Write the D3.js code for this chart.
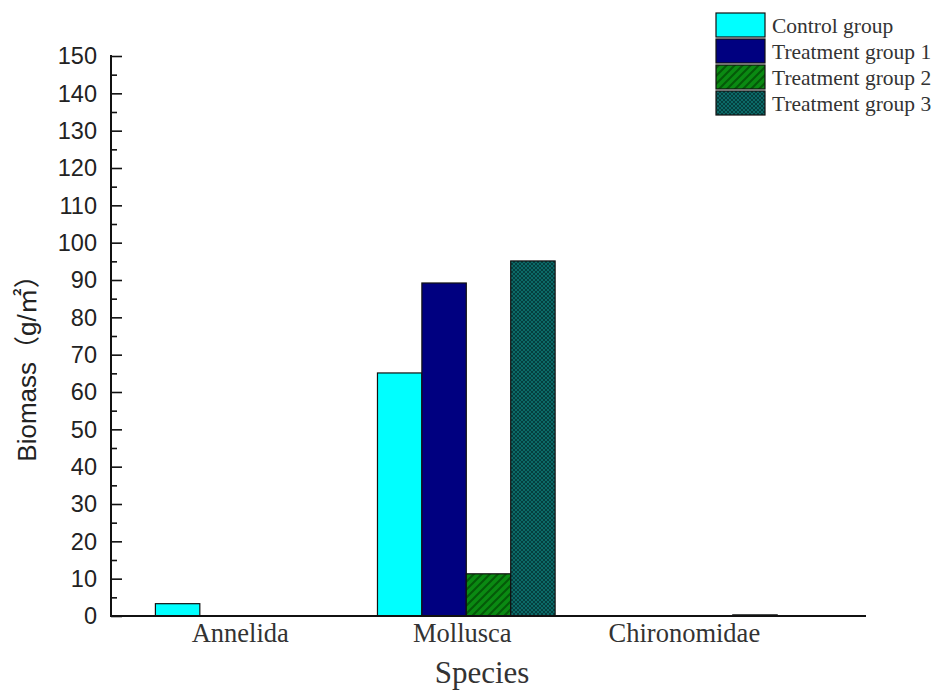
<!DOCTYPE html>
<html>
<head>
<meta charset="utf-8">
<script src="https://cdn.jsdelivr.net/npm/d3@7"></script>
<style>
  body { margin: 0; background: #fff; }
  svg { display: block; }
</style>
</head>
<body>
<div id="chart"></div>
<script>
// ---- data ----
const categories = ["Annelida", "Mollusca", "Chironomidae"];
const seriesNames = ["Control group", "Treatment group 1", "Treatment group 2", "Treatment group 3"];
const controlGroup = [3.3, 65.1, 0];
const treatment1 = [0, 89.2, 0];
const treatment2 = [0, 11.3, 0];
const treatment3 = [0, 95.1, 0.3];
const yTicks = [0, 10, 20, 30, 40, 50, 60, 70, 80, 90, 100, 110, 120, 130, 140, 150];
const seriesValues = [controlGroup, treatment1, treatment2, treatment3];

const W = 937, H = 692;
const svg = d3.select("#chart").append("svg").attr("width", W).attr("height", H);
const defs = svg.append("defs");

// hatch pattern for treatment 2
const p2 = defs.append("pattern").attr("id", "hatch2").attr("patternUnits", "userSpaceOnUse")
  .attr("width", 8).attr("height", 8);
p2.append("rect").attr("width", 8).attr("height", 8).attr("fill", "#0a8a12");
p2.append("path").attr("d", "M-2,2 L2,-2 M0,8 L8,0 M6,10 L10,6")
  .attr("stroke", "#045a08").attr("stroke-width", 2.2);

// crosshatch pattern for treatment 3
const p3 = defs.append("pattern").attr("id", "hatch3").attr("patternUnits", "userSpaceOnUse")
  .attr("width", 4).attr("height", 4);
p3.append("rect").attr("width", 4).attr("height", 4).attr("fill", "#0c6a68");
p3.append("path").attr("d", "M0,0 L4,4 M0,4 L4,0")
  .attr("stroke", "#053a3a").attr("stroke-width", 0.9);

const fills = ["#00ffff", "#000080", "url(#hatch2)", "url(#hatch3)"];

// scales
const x = d3.scaleLinear().domain([0.4, 3.8]).range([111, 866]);
const y = d3.scaleLinear().domain([0, 150]).range([616, 56]);
const barW = 0.2;

// bars
categories.forEach((c, i) => {
  seriesValues.forEach((vals, s) => {
    const x0 = (i + 1) - 0.4 + s * barW;
    const v = vals[i];
    if (v <= 0) return;
    svg.append("rect")
      .attr("x", x(x0))
      .attr("y", y(v))
      .attr("width", x(x0 + barW) - x(x0))
      .attr("height", y(0) - y(v))
      .attr("fill", fills[s])
      .attr("stroke", "#111")
      .attr("stroke-width", 1.2);
  });
});

// y axis (inward ticks)
const minorTicks = d3.range(5, 150, 10);
const yAxisG = svg.append("g").attr("transform", "translate(111,0)");
yAxisG.call(d3.axisRight(y).tickValues(yTicks).tickSize(11).tickFormat(""))
  .call(g => g.select(".domain").remove());
yAxisG.append("g").call(d3.axisRight(y).tickValues(minorTicks).tickSize(6).tickFormat(""))
  .call(g => g.select(".domain").remove());
yAxisG.selectAll("line").attr("stroke", "#111").attr("stroke-width", 1.6);
svg.append("line").attr("x1", 111).attr("x2", 111).attr("y1", 55).attr("y2", 617)
  .attr("stroke", "#111").attr("stroke-width", 2);
svg.append("g").selectAll("text").data(yTicks).join("text")
  .attr("x", 97).attr("y", d => y(d)).attr("dy", "0.36em")
  .attr("text-anchor", "end")
  .attr("font-family", "Liberation Sans, Arial, sans-serif")
  .attr("font-size", 23.5).attr("fill", "#222")
  .text(d => d);

// x axis
const xAxisG = svg.append("g").attr("transform", "translate(0,616)");
xAxisG.call(d3.axisBottom(x).tickValues([1, 2, 3]).tickSize(0).tickFormat(""))
  .call(g => g.select(".domain").attr("stroke", "#111").attr("stroke-width", 2).attr("d", "M110,0H866"));
svg.append("g").selectAll("text").data(categories).join("text")
  .attr("x", (d, i) => x(i + 1) - 4).attr("y", 642)
  .attr("text-anchor", "middle")
  .attr("font-family", "Liberation Serif, Times New Roman, serif")
  .attr("font-size", 26.5).attr("fill", "#333")
  .text(d => d);

// axis titles
svg.append("text")
  .attr("x", 482).attr("y", 683)
  .attr("text-anchor", "middle")
  .attr("font-family", "Liberation Serif, Times New Roman, serif")
  .attr("font-size", 31).attr("fill", "#333")
  .text("Species");
svg.append("text")
  .attr("transform", "translate(36,362) rotate(-90)")
  .attr("text-anchor", "middle")
  .attr("font-family", "Liberation Sans, Arial, 'Noto Sans CJK SC', sans-serif")
  .attr("font-size", 26).attr("fill", "#222")
  .text("Biomass（g/㎡）");

// legend
const leg = svg.append("g");
seriesNames.forEach((n, i) => {
  const yy = 13 + i * 26;
  leg.append("rect").attr("x", 716).attr("y", yy).attr("width", 49).attr("height", 24)
    .attr("fill", fills[i]).attr("stroke", "#111").attr("stroke-width", 1.2);
  leg.append("text").attr("x", 772).attr("y", yy + 12).attr("dy", "0.35em")
    .attr("font-family", "Liberation Serif, Times New Roman, serif")
    .attr("font-size", 21.5).attr("fill", "#333")
    .text(n);
});
</script>
</body>
</html>
